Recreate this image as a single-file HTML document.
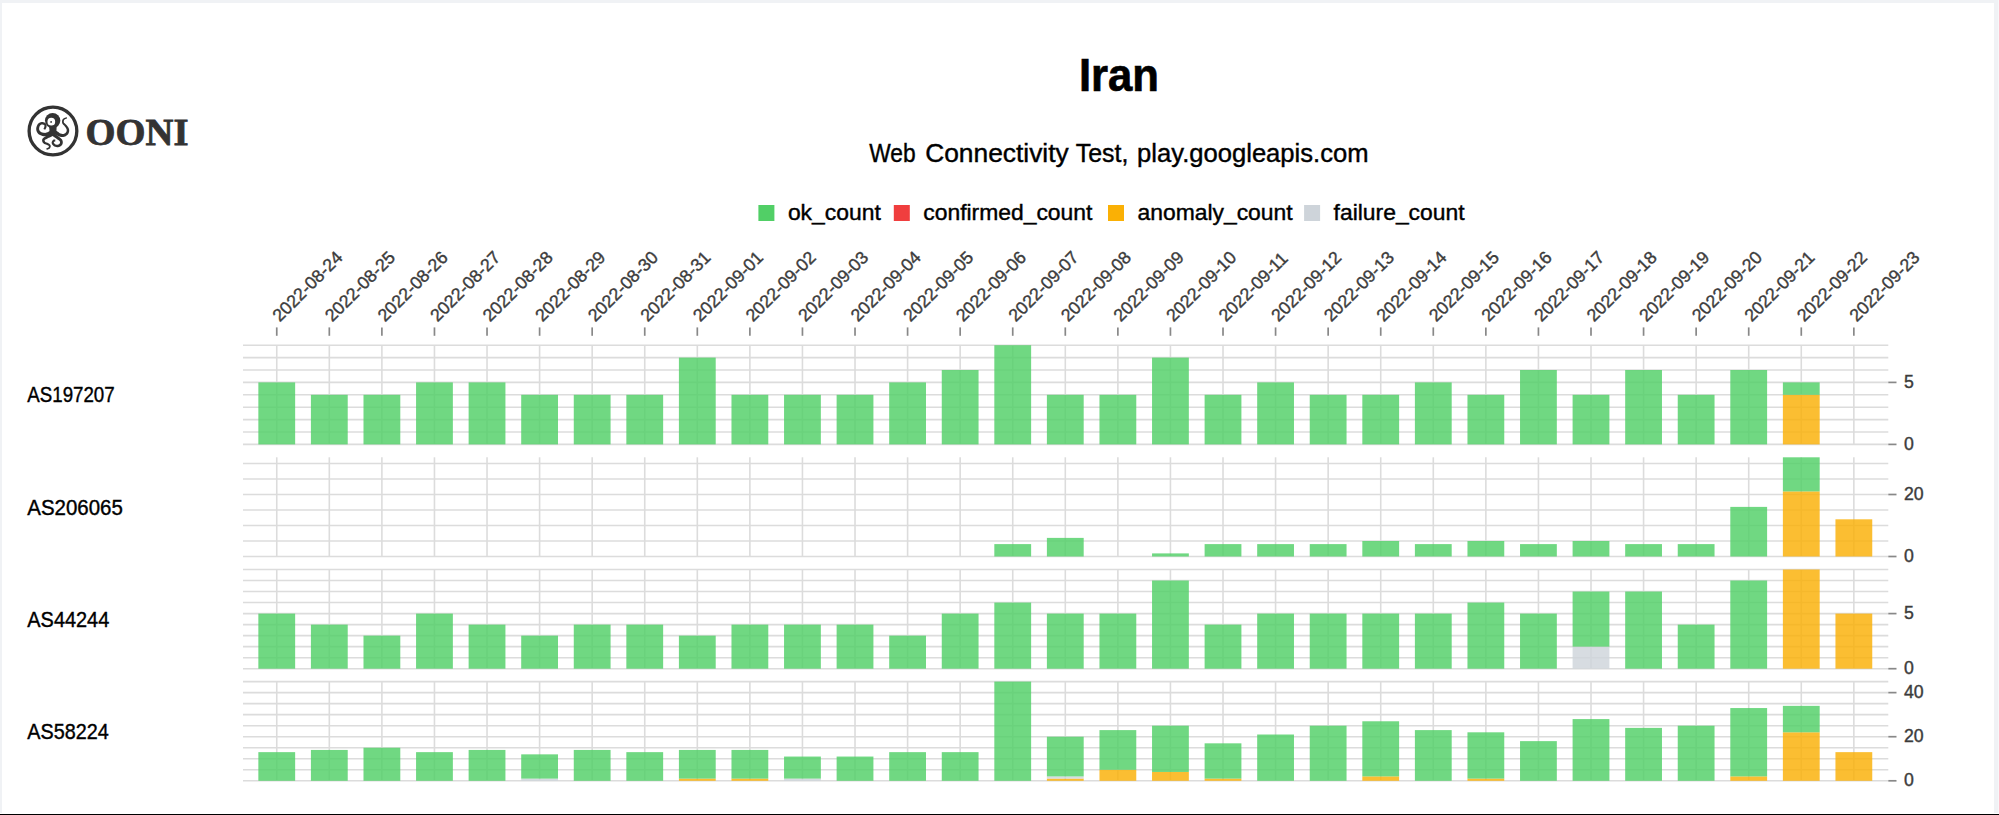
<!DOCTYPE html>
<html><head><meta charset="utf-8"><title>Iran - Web Connectivity Test</title>
<style>
html,body{margin:0;padding:0;width:1999px;height:815px;overflow:hidden;background:#fff;}
svg{display:block;}
</style></head><body>
<svg width="1999" height="815" viewBox="0 0 1999 815">
<rect x="0" y="0" width="1999" height="815" fill="#fff"/>
<rect x="0" y="0" width="1999" height="3" fill="#f0f2f5"/>
<rect x="0" y="0" width="2" height="813" fill="#f0f2f5"/>
<rect x="1994" y="0" width="4" height="813" fill="#f0f2f5"/>
<rect x="1998" y="0" width="1" height="813" fill="#f7f8fa"/>
<rect x="0" y="814" width="1999" height="1" fill="#000"/>
<g transform="translate(26 104) scale(0.06626)">
<circle cx="407" cy="407" r="360" fill="none" stroke="#333" stroke-width="50"/>
<g fill="#333"><path d="M357.9 401.3 L353.6 406.6 L350.8 411.1 L351.0 411.4 L351.5 411.3 L347.5 413.7 L337.6 418.6 L324.8 424.6 L311.2 430.1 L298.2 434.1 L286.9 435.9 L274.7 435.5 L260.3 433.3 L245.8 429.7 L232.9 425.1 L223.3 420.1 L216.1 414.4 L209.6 407.1 L204.3 398.7 L200.4 389.7 L198.1 381.4 L197.6 372.2 L198.9 360.6 L201.8 348.3 L205.8 337.0 L209.9 328.6 L214.3 322.6 L220.0 317.3 L226.5 313.0 L233.3 309.9 L239.1 308.3 L245.6 308.2 L254.2 309.6 L263.3 312.4 L270.9 315.9 L275.0 318.5 L276.2 320.0 L277.3 323.2 L277.8 328.6 L277.7 335.5 L277.1 342.1 L275.9 347.9 L273.6 354.1 L270.3 361.4 L266.4 369.4 L262.8 377.6 L290.0 390.4 L293.7 382.9 L297.9 375.4 L302.3 367.0 L306.3 357.7 L308.9 347.9 L310.3 338.3 L311.1 328.3 L310.4 317.3 L307.0 305.4 L299.6 294.3 L289.1 286.0 L277.1 279.6 L263.8 274.6 L249.7 271.5 L235.5 271.1 L222.0 273.7 L209.2 278.5 L196.9 285.6 L185.7 294.9 L176.1 306.4 L168.4 320.0 L162.0 335.3 L157.1 352.0 L154.2 369.4 L154.3 386.6 L157.5 403.0 L163.3 418.6 L171.6 433.6 L182.5 447.3 L195.9 459.3 L211.9 469.0 L229.9 476.7 L248.9 482.5 L268.4 486.5 L288.1 488.1 L308.2 486.3 L327.6 481.6 L345.2 475.6 L360.3 469.6 L372.5 464.3 L383.2 458.6 L392.5 450.8 L398.2 443.7 L400.0 440.9 L402.1 438.7Z"/><path d="M416.4 444.5 L423.4 448.1 L430.3 451.5 L437.0 455.0 L444.0 458.5 L450.9 462.2 L457.9 466.5 L466.1 472.2 L476.2 478.9 L488.2 485.6 L501.6 490.9 L515.4 494.3 L529.8 496.7 L544.9 498.0 L560.6 497.6 L576.1 494.9 L590.6 489.6 L604.3 482.3 L616.9 473.4 L628.2 463.0 L637.5 451.3 L644.4 438.3 L649.0 424.3 L651.6 409.8 L651.9 395.0 L649.9 380.1 L644.6 365.6 L637.0 352.3 L628.3 340.2 L619.5 329.2 L611.1 318.6 L601.7 308.4 L591.7 299.4 L582.8 291.6 L576.3 285.0 L572.6 279.1 L570.6 272.2 L569.7 263.8 L570.3 255.3 L572.1 247.5 L574.9 241.5 L579.5 236.5 L587.3 231.5 L597.5 226.4 L608.9 221.1 L619.7 215.4 L610.9 197.4 L600.3 202.1 L588.8 206.5 L576.9 211.5 L565.4 217.9 L555.7 226.9 L549.1 238.2 L545.2 250.4 L543.5 263.3 L543.9 276.2 L546.8 289.3 L553.1 301.6 L561.8 312.1 L570.9 321.2 L579.2 329.8 L586.1 338.6 L593.2 348.8 L600.7 359.7 L607.2 370.3 L611.9 379.9 L614.1 387.9 L614.5 396.0 L613.6 404.9 L611.4 413.7 L608.1 421.7 L604.1 428.1 L598.7 433.8 L591.3 439.6 L582.6 444.8 L573.6 448.8 L565.5 451.1 L557.5 451.9 L547.8 451.3 L537.2 449.6 L526.7 447.0 L517.8 444.1 L510.9 440.9 L504.2 436.3 L496.6 430.4 L488.2 423.7 L479.1 417.2 L470.8 411.9 L463.6 407.5 L456.8 403.5 L450.3 399.6 L443.6 395.5Z"/><path d="M375.7 430.7 L373.4 437.4 L372.4 443.0 L372.7 443.3 L373.8 442.4 L372.2 444.2 L365.0 448.9 L353.1 455.3 L338.7 462.5 L323.4 470.3 L309.3 478.4 L296.5 486.4 L283.0 494.7 L269.6 503.7 L257.3 514.1 L247.3 527.3 L242.7 543.3 L243.6 558.4 L248.0 571.7 L254.5 583.2 L263.1 593.7 L274.7 602.0 L287.4 607.2 L299.6 610.8 L310.0 613.8 L318.2 617.2 L325.8 621.4 L333.6 626.0 L340.0 630.4 L344.1 634.0 L345.7 635.9 L346.1 637.8 L345.8 641.5 L344.3 646.4 L341.8 651.4 L339.1 655.2 L335.5 658.1 L329.7 661.1 L322.0 664.1 L313.3 667.2 L305.0 670.7 L312.6 691.3 L320.7 688.7 L329.4 686.2 L338.6 683.4 L347.9 679.5 L356.3 673.6 L363.0 666.0 L368.2 657.6 L371.9 648.1 L373.6 637.6 L371.9 626.3 L366.4 616.3 L359.0 608.3 L350.7 601.6 L342.0 595.6 L332.8 589.6 L321.9 584.1 L310.1 579.5 L299.6 575.5 L291.9 571.8 L287.9 568.5 L285.0 563.9 L282.1 557.7 L280.7 551.9 L280.8 547.9 L281.5 546.1 L284.9 542.9 L293.0 537.2 L304.5 530.7 L317.7 523.9 L330.7 517.2 L343.6 510.9 L358.2 504.8 L373.4 498.6 L388.0 492.1 L401.0 484.8 L411.6 475.7 L418.8 464.8 L422.0 455.7 L422.9 452.2 L424.3 449.3Z"/><path d="M385.0 447.3 L386.1 450.4 L386.8 454.1 L388.9 462.2 L393.9 472.3 L401.6 481.9 L411.2 490.4 L421.9 498.5 L433.2 506.4 L444.6 514.3 L455.8 522.4 L468.1 530.9 L481.0 539.3 L492.8 547.3 L502.0 554.4 L507.3 560.1 L510.3 565.6 L512.4 572.1 L513.3 578.8 L513.0 585.1 L512.0 589.9 L509.7 594.4 L505.3 599.9 L499.3 605.4 L492.7 609.8 L486.7 612.6 L479.8 614.1 L470.8 614.6 L461.0 613.9 L451.8 612.1 L444.7 609.7 L438.5 606.0 L431.8 600.2 L425.7 593.4 L421.3 587.0 L419.5 583.5 L419.4 582.2 L420.7 578.5 L423.6 573.4 L427.4 568.4 L430.0 565.4 L429.7 565.3 L429.5 565.4 L432.0 565.5 L436.9 565.8 L442.2 565.6 L441.8 535.6 L438.1 535.6 L433.9 535.1 L427.3 534.8 L418.4 536.5 L410.0 541.4 L403.7 547.7 L397.5 555.1 L391.6 564.5 L387.3 576.2 L387.1 589.9 L391.5 602.3 L398.2 613.5 L406.8 624.2 L416.9 633.8 L428.5 641.5 L441.3 646.8 L455.0 650.3 L469.3 652.0 L483.6 652.0 L497.5 649.6 L510.6 644.6 L522.7 637.4 L533.6 628.5 L543.0 617.9 L550.0 605.7 L554.1 592.4 L555.5 578.6 L554.4 564.3 L550.7 549.9 L543.7 535.5 L533.1 522.6 L520.4 511.5 L507.4 501.7 L495.0 492.8 L484.2 484.4 L473.4 475.7 L462.1 467.1 L451.9 459.1 L443.5 452.1 L438.4 447.1 L437.0 445.0 L437.3 445.2 L437.4 444.2 L436.6 438.9 L435.0 432.7Z"/>
<path d="M352 300 C 345 360, 355 420, 380 470 L 440 470 C 462 420, 468 360, 455 300 Z"/>
<circle cx="402" cy="250" r="116"/></g>
<circle cx="382" cy="266" r="58" fill="#fff"/>
<circle cx="379" cy="270" r="14" fill="#333"/>
</g><text x="85.6" y="145" font-family="Liberation Serif, serif" font-weight="bold" font-size="38" fill="#333" stroke="#333" stroke-width="0.8" transform="translate(85.6 0) scale(1.015 1) translate(-85.6 0)">OONI</text>
<text x="1119" y="91" text-anchor="middle" font-family="Liberation Sans, sans-serif" font-weight="bold" font-size="46" fill="#000" stroke="#000" stroke-width="0.7" transform="translate(1119 0) scale(0.95 1) translate(-1119 0)">Iran</text>
<g font-family="Liberation Sans, sans-serif" font-size="25" fill="#000" stroke="#000" stroke-width="0.4"><text x="869.3" y="162.3" transform="translate(869.3 0) scale(0.91 1) translate(-869.3 0)">Web</text><text x="925.2" y="162.3" transform="translate(925.2 0) scale(1.054 1) translate(-925.2 0)">Connectivity</text><text x="1075.8" y="162.3" transform="translate(1075.8 0) scale(0.995 1) translate(-1075.8 0)">Test,</text><text x="1137.1" y="162.3" transform="translate(1137.1 0) scale(1.024 1) translate(-1137.1 0)">play.googleapis.com</text></g>
<g font-family="Liberation Sans, sans-serif" font-size="22" fill="#000" stroke="#000" stroke-width="0.4"><rect x="758.4" y="205" width="16" height="16" fill="#51cf66" stroke="none"/><text x="787.9" y="220.2" transform="translate(787.9 0) scale(1.04 1) translate(-787.9 0)">ok_count</text><rect x="893.8" y="205" width="16" height="16" fill="#f03e3e" stroke="none"/><text x="923.3" y="220.2" transform="translate(923.3 0) scale(1.04 1) translate(-923.3 0)">confirmed_count</text><rect x="1108" y="205" width="16" height="16" fill="#fab005" stroke="none"/><text x="1137.5" y="220.2" transform="translate(1137.5 0) scale(1.04 1) translate(-1137.5 0)">anomaly_count</text><rect x="1304.1" y="205" width="16" height="16" fill="#ced4da" stroke="none"/><text x="1333.6" y="220.2" transform="translate(1333.6 0) scale(1.04 1) translate(-1333.6 0)">failure_count</text></g>
<g stroke="#dcdcdc" stroke-width="1.6"><line x1="243.0" x2="1888.3" y1="444.40" y2="444.40"/><line x1="243.0" x2="1888.3" y1="432.00" y2="432.00"/><line x1="243.0" x2="1888.3" y1="419.60" y2="419.60"/><line x1="243.0" x2="1888.3" y1="407.20" y2="407.20"/><line x1="243.0" x2="1888.3" y1="394.80" y2="394.80"/><line x1="243.0" x2="1888.3" y1="382.40" y2="382.40"/><line x1="243.0" x2="1888.3" y1="370.00" y2="370.00"/><line x1="243.0" x2="1888.3" y1="357.60" y2="357.60"/><line x1="243.0" x2="1888.3" y1="345.20" y2="345.20"/><line x1="276.75" x2="276.75" y1="345.20" y2="444.40"/><line x1="329.32" x2="329.32" y1="345.20" y2="444.40"/><line x1="381.89" x2="381.89" y1="345.20" y2="444.40"/><line x1="434.46" x2="434.46" y1="345.20" y2="444.40"/><line x1="487.03" x2="487.03" y1="345.20" y2="444.40"/><line x1="539.60" x2="539.60" y1="345.20" y2="444.40"/><line x1="592.17" x2="592.17" y1="345.20" y2="444.40"/><line x1="644.74" x2="644.74" y1="345.20" y2="444.40"/><line x1="697.31" x2="697.31" y1="345.20" y2="444.40"/><line x1="749.88" x2="749.88" y1="345.20" y2="444.40"/><line x1="802.45" x2="802.45" y1="345.20" y2="444.40"/><line x1="855.02" x2="855.02" y1="345.20" y2="444.40"/><line x1="907.59" x2="907.59" y1="345.20" y2="444.40"/><line x1="960.16" x2="960.16" y1="345.20" y2="444.40"/><line x1="1012.73" x2="1012.73" y1="345.20" y2="444.40"/><line x1="1065.30" x2="1065.30" y1="345.20" y2="444.40"/><line x1="1117.87" x2="1117.87" y1="345.20" y2="444.40"/><line x1="1170.44" x2="1170.44" y1="345.20" y2="444.40"/><line x1="1223.01" x2="1223.01" y1="345.20" y2="444.40"/><line x1="1275.58" x2="1275.58" y1="345.20" y2="444.40"/><line x1="1328.15" x2="1328.15" y1="345.20" y2="444.40"/><line x1="1380.72" x2="1380.72" y1="345.20" y2="444.40"/><line x1="1433.29" x2="1433.29" y1="345.20" y2="444.40"/><line x1="1485.86" x2="1485.86" y1="345.20" y2="444.40"/><line x1="1538.43" x2="1538.43" y1="345.20" y2="444.40"/><line x1="1591.00" x2="1591.00" y1="345.20" y2="444.40"/><line x1="1643.57" x2="1643.57" y1="345.20" y2="444.40"/><line x1="1696.14" x2="1696.14" y1="345.20" y2="444.40"/><line x1="1748.71" x2="1748.71" y1="345.20" y2="444.40"/><line x1="1801.28" x2="1801.28" y1="345.20" y2="444.40"/><line x1="1853.85" x2="1853.85" y1="345.20" y2="444.40"/><line x1="243.0" x2="1888.3" y1="556.50" y2="556.50"/><line x1="243.0" x2="1888.3" y1="541.00" y2="541.00"/><line x1="243.0" x2="1888.3" y1="525.50" y2="525.50"/><line x1="243.0" x2="1888.3" y1="510.00" y2="510.00"/><line x1="243.0" x2="1888.3" y1="494.50" y2="494.50"/><line x1="243.0" x2="1888.3" y1="479.00" y2="479.00"/><line x1="243.0" x2="1888.3" y1="463.50" y2="463.50"/><line x1="276.75" x2="276.75" y1="457.30" y2="556.50"/><line x1="329.32" x2="329.32" y1="457.30" y2="556.50"/><line x1="381.89" x2="381.89" y1="457.30" y2="556.50"/><line x1="434.46" x2="434.46" y1="457.30" y2="556.50"/><line x1="487.03" x2="487.03" y1="457.30" y2="556.50"/><line x1="539.60" x2="539.60" y1="457.30" y2="556.50"/><line x1="592.17" x2="592.17" y1="457.30" y2="556.50"/><line x1="644.74" x2="644.74" y1="457.30" y2="556.50"/><line x1="697.31" x2="697.31" y1="457.30" y2="556.50"/><line x1="749.88" x2="749.88" y1="457.30" y2="556.50"/><line x1="802.45" x2="802.45" y1="457.30" y2="556.50"/><line x1="855.02" x2="855.02" y1="457.30" y2="556.50"/><line x1="907.59" x2="907.59" y1="457.30" y2="556.50"/><line x1="960.16" x2="960.16" y1="457.30" y2="556.50"/><line x1="1012.73" x2="1012.73" y1="457.30" y2="556.50"/><line x1="1065.30" x2="1065.30" y1="457.30" y2="556.50"/><line x1="1117.87" x2="1117.87" y1="457.30" y2="556.50"/><line x1="1170.44" x2="1170.44" y1="457.30" y2="556.50"/><line x1="1223.01" x2="1223.01" y1="457.30" y2="556.50"/><line x1="1275.58" x2="1275.58" y1="457.30" y2="556.50"/><line x1="1328.15" x2="1328.15" y1="457.30" y2="556.50"/><line x1="1380.72" x2="1380.72" y1="457.30" y2="556.50"/><line x1="1433.29" x2="1433.29" y1="457.30" y2="556.50"/><line x1="1485.86" x2="1485.86" y1="457.30" y2="556.50"/><line x1="1538.43" x2="1538.43" y1="457.30" y2="556.50"/><line x1="1591.00" x2="1591.00" y1="457.30" y2="556.50"/><line x1="1643.57" x2="1643.57" y1="457.30" y2="556.50"/><line x1="1696.14" x2="1696.14" y1="457.30" y2="556.50"/><line x1="1748.71" x2="1748.71" y1="457.30" y2="556.50"/><line x1="1801.28" x2="1801.28" y1="457.30" y2="556.50"/><line x1="1853.85" x2="1853.85" y1="457.30" y2="556.50"/><line x1="243.0" x2="1888.3" y1="668.70" y2="668.70"/><line x1="243.0" x2="1888.3" y1="657.68" y2="657.68"/><line x1="243.0" x2="1888.3" y1="646.66" y2="646.66"/><line x1="243.0" x2="1888.3" y1="635.63" y2="635.63"/><line x1="243.0" x2="1888.3" y1="624.61" y2="624.61"/><line x1="243.0" x2="1888.3" y1="613.59" y2="613.59"/><line x1="243.0" x2="1888.3" y1="602.57" y2="602.57"/><line x1="243.0" x2="1888.3" y1="591.54" y2="591.54"/><line x1="243.0" x2="1888.3" y1="580.52" y2="580.52"/><line x1="243.0" x2="1888.3" y1="569.50" y2="569.50"/><line x1="276.75" x2="276.75" y1="569.50" y2="668.70"/><line x1="329.32" x2="329.32" y1="569.50" y2="668.70"/><line x1="381.89" x2="381.89" y1="569.50" y2="668.70"/><line x1="434.46" x2="434.46" y1="569.50" y2="668.70"/><line x1="487.03" x2="487.03" y1="569.50" y2="668.70"/><line x1="539.60" x2="539.60" y1="569.50" y2="668.70"/><line x1="592.17" x2="592.17" y1="569.50" y2="668.70"/><line x1="644.74" x2="644.74" y1="569.50" y2="668.70"/><line x1="697.31" x2="697.31" y1="569.50" y2="668.70"/><line x1="749.88" x2="749.88" y1="569.50" y2="668.70"/><line x1="802.45" x2="802.45" y1="569.50" y2="668.70"/><line x1="855.02" x2="855.02" y1="569.50" y2="668.70"/><line x1="907.59" x2="907.59" y1="569.50" y2="668.70"/><line x1="960.16" x2="960.16" y1="569.50" y2="668.70"/><line x1="1012.73" x2="1012.73" y1="569.50" y2="668.70"/><line x1="1065.30" x2="1065.30" y1="569.50" y2="668.70"/><line x1="1117.87" x2="1117.87" y1="569.50" y2="668.70"/><line x1="1170.44" x2="1170.44" y1="569.50" y2="668.70"/><line x1="1223.01" x2="1223.01" y1="569.50" y2="668.70"/><line x1="1275.58" x2="1275.58" y1="569.50" y2="668.70"/><line x1="1328.15" x2="1328.15" y1="569.50" y2="668.70"/><line x1="1380.72" x2="1380.72" y1="569.50" y2="668.70"/><line x1="1433.29" x2="1433.29" y1="569.50" y2="668.70"/><line x1="1485.86" x2="1485.86" y1="569.50" y2="668.70"/><line x1="1538.43" x2="1538.43" y1="569.50" y2="668.70"/><line x1="1591.00" x2="1591.00" y1="569.50" y2="668.70"/><line x1="1643.57" x2="1643.57" y1="569.50" y2="668.70"/><line x1="1696.14" x2="1696.14" y1="569.50" y2="668.70"/><line x1="1748.71" x2="1748.71" y1="569.50" y2="668.70"/><line x1="1801.28" x2="1801.28" y1="569.50" y2="668.70"/><line x1="1853.85" x2="1853.85" y1="569.50" y2="668.70"/><line x1="243.0" x2="1888.3" y1="780.80" y2="780.80"/><line x1="243.0" x2="1888.3" y1="769.78" y2="769.78"/><line x1="243.0" x2="1888.3" y1="758.76" y2="758.76"/><line x1="243.0" x2="1888.3" y1="747.73" y2="747.73"/><line x1="243.0" x2="1888.3" y1="736.71" y2="736.71"/><line x1="243.0" x2="1888.3" y1="725.69" y2="725.69"/><line x1="243.0" x2="1888.3" y1="714.67" y2="714.67"/><line x1="243.0" x2="1888.3" y1="703.64" y2="703.64"/><line x1="243.0" x2="1888.3" y1="692.62" y2="692.62"/><line x1="243.0" x2="1888.3" y1="681.60" y2="681.60"/><line x1="276.75" x2="276.75" y1="681.60" y2="780.80"/><line x1="329.32" x2="329.32" y1="681.60" y2="780.80"/><line x1="381.89" x2="381.89" y1="681.60" y2="780.80"/><line x1="434.46" x2="434.46" y1="681.60" y2="780.80"/><line x1="487.03" x2="487.03" y1="681.60" y2="780.80"/><line x1="539.60" x2="539.60" y1="681.60" y2="780.80"/><line x1="592.17" x2="592.17" y1="681.60" y2="780.80"/><line x1="644.74" x2="644.74" y1="681.60" y2="780.80"/><line x1="697.31" x2="697.31" y1="681.60" y2="780.80"/><line x1="749.88" x2="749.88" y1="681.60" y2="780.80"/><line x1="802.45" x2="802.45" y1="681.60" y2="780.80"/><line x1="855.02" x2="855.02" y1="681.60" y2="780.80"/><line x1="907.59" x2="907.59" y1="681.60" y2="780.80"/><line x1="960.16" x2="960.16" y1="681.60" y2="780.80"/><line x1="1012.73" x2="1012.73" y1="681.60" y2="780.80"/><line x1="1065.30" x2="1065.30" y1="681.60" y2="780.80"/><line x1="1117.87" x2="1117.87" y1="681.60" y2="780.80"/><line x1="1170.44" x2="1170.44" y1="681.60" y2="780.80"/><line x1="1223.01" x2="1223.01" y1="681.60" y2="780.80"/><line x1="1275.58" x2="1275.58" y1="681.60" y2="780.80"/><line x1="1328.15" x2="1328.15" y1="681.60" y2="780.80"/><line x1="1380.72" x2="1380.72" y1="681.60" y2="780.80"/><line x1="1433.29" x2="1433.29" y1="681.60" y2="780.80"/><line x1="1485.86" x2="1485.86" y1="681.60" y2="780.80"/><line x1="1538.43" x2="1538.43" y1="681.60" y2="780.80"/><line x1="1591.00" x2="1591.00" y1="681.60" y2="780.80"/><line x1="1643.57" x2="1643.57" y1="681.60" y2="780.80"/><line x1="1696.14" x2="1696.14" y1="681.60" y2="780.80"/><line x1="1748.71" x2="1748.71" y1="681.60" y2="780.80"/><line x1="1801.28" x2="1801.28" y1="681.60" y2="780.80"/><line x1="1853.85" x2="1853.85" y1="681.60" y2="780.80"/></g>
<g fill-opacity="0.82"><rect x="258.35" y="382.40" width="36.8" height="62.00" fill="#51cf66"/><rect x="310.92" y="394.80" width="36.8" height="49.60" fill="#51cf66"/><rect x="363.49" y="394.80" width="36.8" height="49.60" fill="#51cf66"/><rect x="416.06" y="382.40" width="36.8" height="62.00" fill="#51cf66"/><rect x="468.63" y="382.40" width="36.8" height="62.00" fill="#51cf66"/><rect x="521.20" y="394.80" width="36.8" height="49.60" fill="#51cf66"/><rect x="573.77" y="394.80" width="36.8" height="49.60" fill="#51cf66"/><rect x="626.34" y="394.80" width="36.8" height="49.60" fill="#51cf66"/><rect x="678.91" y="357.60" width="36.8" height="86.80" fill="#51cf66"/><rect x="731.48" y="394.80" width="36.8" height="49.60" fill="#51cf66"/><rect x="784.05" y="394.80" width="36.8" height="49.60" fill="#51cf66"/><rect x="836.62" y="394.80" width="36.8" height="49.60" fill="#51cf66"/><rect x="889.19" y="382.40" width="36.8" height="62.00" fill="#51cf66"/><rect x="941.76" y="370.00" width="36.8" height="74.40" fill="#51cf66"/><rect x="994.33" y="345.20" width="36.8" height="99.20" fill="#51cf66"/><rect x="1046.90" y="394.80" width="36.8" height="49.60" fill="#51cf66"/><rect x="1099.47" y="394.80" width="36.8" height="49.60" fill="#51cf66"/><rect x="1152.04" y="357.60" width="36.8" height="86.80" fill="#51cf66"/><rect x="1204.61" y="394.80" width="36.8" height="49.60" fill="#51cf66"/><rect x="1257.18" y="382.40" width="36.8" height="62.00" fill="#51cf66"/><rect x="1309.75" y="394.80" width="36.8" height="49.60" fill="#51cf66"/><rect x="1362.32" y="394.80" width="36.8" height="49.60" fill="#51cf66"/><rect x="1414.89" y="382.40" width="36.8" height="62.00" fill="#51cf66"/><rect x="1467.46" y="394.80" width="36.8" height="49.60" fill="#51cf66"/><rect x="1520.03" y="370.00" width="36.8" height="74.40" fill="#51cf66"/><rect x="1572.60" y="394.80" width="36.8" height="49.60" fill="#51cf66"/><rect x="1625.17" y="370.00" width="36.8" height="74.40" fill="#51cf66"/><rect x="1677.74" y="394.80" width="36.8" height="49.60" fill="#51cf66"/><rect x="1730.31" y="370.00" width="36.8" height="74.40" fill="#51cf66"/><rect x="1782.88" y="394.80" width="36.8" height="49.60" fill="#fab005"/><rect x="1782.88" y="382.40" width="36.8" height="12.40" fill="#51cf66"/><rect x="994.33" y="544.10" width="36.8" height="12.40" fill="#51cf66"/><rect x="1046.90" y="537.90" width="36.8" height="18.60" fill="#51cf66"/><rect x="1152.04" y="553.40" width="36.8" height="3.10" fill="#51cf66"/><rect x="1204.61" y="544.10" width="36.8" height="12.40" fill="#51cf66"/><rect x="1257.18" y="544.10" width="36.8" height="12.40" fill="#51cf66"/><rect x="1309.75" y="544.10" width="36.8" height="12.40" fill="#51cf66"/><rect x="1362.32" y="541.00" width="36.8" height="15.50" fill="#51cf66"/><rect x="1414.89" y="544.10" width="36.8" height="12.40" fill="#51cf66"/><rect x="1467.46" y="541.00" width="36.8" height="15.50" fill="#51cf66"/><rect x="1520.03" y="544.10" width="36.8" height="12.40" fill="#51cf66"/><rect x="1572.60" y="541.00" width="36.8" height="15.50" fill="#51cf66"/><rect x="1625.17" y="544.10" width="36.8" height="12.40" fill="#51cf66"/><rect x="1677.74" y="544.10" width="36.8" height="12.40" fill="#51cf66"/><rect x="1730.31" y="506.90" width="36.8" height="49.60" fill="#51cf66"/><rect x="1782.88" y="491.40" width="36.8" height="65.10" fill="#fab005"/><rect x="1782.88" y="457.30" width="36.8" height="34.10" fill="#51cf66"/><rect x="1835.45" y="519.30" width="36.8" height="37.20" fill="#fab005"/><rect x="258.35" y="613.59" width="36.8" height="55.11" fill="#51cf66"/><rect x="310.92" y="624.61" width="36.8" height="44.09" fill="#51cf66"/><rect x="363.49" y="635.63" width="36.8" height="33.07" fill="#51cf66"/><rect x="416.06" y="613.59" width="36.8" height="55.11" fill="#51cf66"/><rect x="468.63" y="624.61" width="36.8" height="44.09" fill="#51cf66"/><rect x="521.20" y="635.63" width="36.8" height="33.07" fill="#51cf66"/><rect x="573.77" y="624.61" width="36.8" height="44.09" fill="#51cf66"/><rect x="626.34" y="624.61" width="36.8" height="44.09" fill="#51cf66"/><rect x="678.91" y="635.63" width="36.8" height="33.07" fill="#51cf66"/><rect x="731.48" y="624.61" width="36.8" height="44.09" fill="#51cf66"/><rect x="784.05" y="624.61" width="36.8" height="44.09" fill="#51cf66"/><rect x="836.62" y="624.61" width="36.8" height="44.09" fill="#51cf66"/><rect x="889.19" y="635.63" width="36.8" height="33.07" fill="#51cf66"/><rect x="941.76" y="613.59" width="36.8" height="55.11" fill="#51cf66"/><rect x="994.33" y="602.57" width="36.8" height="66.13" fill="#51cf66"/><rect x="1046.90" y="613.59" width="36.8" height="55.11" fill="#51cf66"/><rect x="1099.47" y="613.59" width="36.8" height="55.11" fill="#51cf66"/><rect x="1152.04" y="580.52" width="36.8" height="88.18" fill="#51cf66"/><rect x="1204.61" y="624.61" width="36.8" height="44.09" fill="#51cf66"/><rect x="1257.18" y="613.59" width="36.8" height="55.11" fill="#51cf66"/><rect x="1309.75" y="613.59" width="36.8" height="55.11" fill="#51cf66"/><rect x="1362.32" y="613.59" width="36.8" height="55.11" fill="#51cf66"/><rect x="1414.89" y="613.59" width="36.8" height="55.11" fill="#51cf66"/><rect x="1467.46" y="602.57" width="36.8" height="66.13" fill="#51cf66"/><rect x="1520.03" y="613.59" width="36.8" height="55.11" fill="#51cf66"/><rect x="1572.60" y="646.66" width="36.8" height="22.04" fill="#ced4da"/><rect x="1572.60" y="591.54" width="36.8" height="55.11" fill="#51cf66"/><rect x="1625.17" y="591.54" width="36.8" height="77.16" fill="#51cf66"/><rect x="1677.74" y="624.61" width="36.8" height="44.09" fill="#51cf66"/><rect x="1730.31" y="580.52" width="36.8" height="88.18" fill="#51cf66"/><rect x="1782.88" y="569.50" width="36.8" height="99.20" fill="#fab005"/><rect x="1835.45" y="613.59" width="36.8" height="55.11" fill="#fab005"/><rect x="258.35" y="752.14" width="36.8" height="28.66" fill="#51cf66"/><rect x="310.92" y="749.94" width="36.8" height="30.86" fill="#51cf66"/><rect x="363.49" y="747.73" width="36.8" height="33.07" fill="#51cf66"/><rect x="416.06" y="752.14" width="36.8" height="28.66" fill="#51cf66"/><rect x="468.63" y="749.94" width="36.8" height="30.86" fill="#51cf66"/><rect x="521.20" y="778.60" width="36.8" height="2.20" fill="#ced4da"/><rect x="521.20" y="754.35" width="36.8" height="24.25" fill="#51cf66"/><rect x="573.77" y="749.94" width="36.8" height="30.86" fill="#51cf66"/><rect x="626.34" y="752.14" width="36.8" height="28.66" fill="#51cf66"/><rect x="678.91" y="778.60" width="36.8" height="2.20" fill="#fab005"/><rect x="678.91" y="749.94" width="36.8" height="28.66" fill="#51cf66"/><rect x="731.48" y="778.60" width="36.8" height="2.20" fill="#fab005"/><rect x="731.48" y="749.94" width="36.8" height="28.66" fill="#51cf66"/><rect x="784.05" y="778.60" width="36.8" height="2.20" fill="#ced4da"/><rect x="784.05" y="756.55" width="36.8" height="22.04" fill="#51cf66"/><rect x="836.62" y="756.55" width="36.8" height="24.25" fill="#51cf66"/><rect x="889.19" y="752.14" width="36.8" height="28.66" fill="#51cf66"/><rect x="941.76" y="752.14" width="36.8" height="28.66" fill="#51cf66"/><rect x="994.33" y="681.60" width="36.8" height="99.20" fill="#51cf66"/><rect x="1046.90" y="778.60" width="36.8" height="2.20" fill="#fab005"/><rect x="1046.90" y="776.39" width="36.8" height="2.20" fill="#ced4da"/><rect x="1046.90" y="736.71" width="36.8" height="39.68" fill="#51cf66"/><rect x="1099.47" y="769.78" width="36.8" height="11.02" fill="#fab005"/><rect x="1099.47" y="730.10" width="36.8" height="39.68" fill="#51cf66"/><rect x="1152.04" y="771.98" width="36.8" height="8.82" fill="#fab005"/><rect x="1152.04" y="725.69" width="36.8" height="46.29" fill="#51cf66"/><rect x="1204.61" y="778.60" width="36.8" height="2.20" fill="#fab005"/><rect x="1204.61" y="743.32" width="36.8" height="35.27" fill="#51cf66"/><rect x="1257.18" y="734.51" width="36.8" height="46.29" fill="#51cf66"/><rect x="1309.75" y="725.69" width="36.8" height="55.11" fill="#51cf66"/><rect x="1362.32" y="776.39" width="36.8" height="4.41" fill="#fab005"/><rect x="1362.32" y="721.28" width="36.8" height="55.11" fill="#51cf66"/><rect x="1414.89" y="730.10" width="36.8" height="50.70" fill="#51cf66"/><rect x="1467.46" y="778.60" width="36.8" height="2.20" fill="#fab005"/><rect x="1467.46" y="732.30" width="36.8" height="46.29" fill="#51cf66"/><rect x="1520.03" y="741.12" width="36.8" height="39.68" fill="#51cf66"/><rect x="1572.60" y="719.08" width="36.8" height="61.72" fill="#51cf66"/><rect x="1625.17" y="727.89" width="36.8" height="52.91" fill="#51cf66"/><rect x="1677.74" y="725.69" width="36.8" height="55.11" fill="#51cf66"/><rect x="1730.31" y="776.39" width="36.8" height="4.41" fill="#fab005"/><rect x="1730.31" y="708.05" width="36.8" height="68.34" fill="#51cf66"/><rect x="1782.88" y="732.30" width="36.8" height="48.50" fill="#fab005"/><rect x="1782.88" y="705.85" width="36.8" height="26.45" fill="#51cf66"/><rect x="1835.45" y="752.14" width="36.8" height="28.66" fill="#fab005"/></g>
<g stroke="#888" stroke-width="1.7"><line x1="276.75" x2="276.75" y1="327.4" y2="335.8"/><line x1="329.32" x2="329.32" y1="327.4" y2="335.8"/><line x1="381.89" x2="381.89" y1="327.4" y2="335.8"/><line x1="434.46" x2="434.46" y1="327.4" y2="335.8"/><line x1="487.03" x2="487.03" y1="327.4" y2="335.8"/><line x1="539.60" x2="539.60" y1="327.4" y2="335.8"/><line x1="592.17" x2="592.17" y1="327.4" y2="335.8"/><line x1="644.74" x2="644.74" y1="327.4" y2="335.8"/><line x1="697.31" x2="697.31" y1="327.4" y2="335.8"/><line x1="749.88" x2="749.88" y1="327.4" y2="335.8"/><line x1="802.45" x2="802.45" y1="327.4" y2="335.8"/><line x1="855.02" x2="855.02" y1="327.4" y2="335.8"/><line x1="907.59" x2="907.59" y1="327.4" y2="335.8"/><line x1="960.16" x2="960.16" y1="327.4" y2="335.8"/><line x1="1012.73" x2="1012.73" y1="327.4" y2="335.8"/><line x1="1065.30" x2="1065.30" y1="327.4" y2="335.8"/><line x1="1117.87" x2="1117.87" y1="327.4" y2="335.8"/><line x1="1170.44" x2="1170.44" y1="327.4" y2="335.8"/><line x1="1223.01" x2="1223.01" y1="327.4" y2="335.8"/><line x1="1275.58" x2="1275.58" y1="327.4" y2="335.8"/><line x1="1328.15" x2="1328.15" y1="327.4" y2="335.8"/><line x1="1380.72" x2="1380.72" y1="327.4" y2="335.8"/><line x1="1433.29" x2="1433.29" y1="327.4" y2="335.8"/><line x1="1485.86" x2="1485.86" y1="327.4" y2="335.8"/><line x1="1538.43" x2="1538.43" y1="327.4" y2="335.8"/><line x1="1591.00" x2="1591.00" y1="327.4" y2="335.8"/><line x1="1643.57" x2="1643.57" y1="327.4" y2="335.8"/><line x1="1696.14" x2="1696.14" y1="327.4" y2="335.8"/><line x1="1748.71" x2="1748.71" y1="327.4" y2="335.8"/><line x1="1801.28" x2="1801.28" y1="327.4" y2="335.8"/><line x1="1853.85" x2="1853.85" y1="327.4" y2="335.8"/><line x1="1888.3" x2="1896.5" y1="444.40" y2="444.40"/><line x1="1888.3" x2="1896.5" y1="382.40" y2="382.40"/><line x1="1888.3" x2="1896.5" y1="556.50" y2="556.50"/><line x1="1888.3" x2="1896.5" y1="494.50" y2="494.50"/><line x1="1888.3" x2="1896.5" y1="668.70" y2="668.70"/><line x1="1888.3" x2="1896.5" y1="613.59" y2="613.59"/><line x1="1888.3" x2="1896.5" y1="780.80" y2="780.80"/><line x1="1888.3" x2="1896.5" y1="736.71" y2="736.71"/><line x1="1888.3" x2="1896.5" y1="692.62" y2="692.62"/></g>
<g font-family="Liberation Sans, sans-serif" font-size="17.7" fill="#3c3c3c" stroke="#3c3c3c" stroke-width="0.4"><text transform="translate(279.75,322.6) rotate(-45)">2022-08-24</text><text transform="translate(332.32,322.6) rotate(-45)">2022-08-25</text><text transform="translate(384.89,322.6) rotate(-45)">2022-08-26</text><text transform="translate(437.46,322.6) rotate(-45)">2022-08-27</text><text transform="translate(490.03,322.6) rotate(-45)">2022-08-28</text><text transform="translate(542.60,322.6) rotate(-45)">2022-08-29</text><text transform="translate(595.17,322.6) rotate(-45)">2022-08-30</text><text transform="translate(647.74,322.6) rotate(-45)">2022-08-31</text><text transform="translate(700.31,322.6) rotate(-45)">2022-09-01</text><text transform="translate(752.88,322.6) rotate(-45)">2022-09-02</text><text transform="translate(805.45,322.6) rotate(-45)">2022-09-03</text><text transform="translate(858.02,322.6) rotate(-45)">2022-09-04</text><text transform="translate(910.59,322.6) rotate(-45)">2022-09-05</text><text transform="translate(963.16,322.6) rotate(-45)">2022-09-06</text><text transform="translate(1015.73,322.6) rotate(-45)">2022-09-07</text><text transform="translate(1068.30,322.6) rotate(-45)">2022-09-08</text><text transform="translate(1120.87,322.6) rotate(-45)">2022-09-09</text><text transform="translate(1173.44,322.6) rotate(-45)">2022-09-10</text><text transform="translate(1226.01,322.6) rotate(-45)">2022-09-11</text><text transform="translate(1278.58,322.6) rotate(-45)">2022-09-12</text><text transform="translate(1331.15,322.6) rotate(-45)">2022-09-13</text><text transform="translate(1383.72,322.6) rotate(-45)">2022-09-14</text><text transform="translate(1436.29,322.6) rotate(-45)">2022-09-15</text><text transform="translate(1488.86,322.6) rotate(-45)">2022-09-16</text><text transform="translate(1541.43,322.6) rotate(-45)">2022-09-17</text><text transform="translate(1594.00,322.6) rotate(-45)">2022-09-18</text><text transform="translate(1646.57,322.6) rotate(-45)">2022-09-19</text><text transform="translate(1699.14,322.6) rotate(-45)">2022-09-20</text><text transform="translate(1751.71,322.6) rotate(-45)">2022-09-21</text><text transform="translate(1804.28,322.6) rotate(-45)">2022-09-22</text><text transform="translate(1856.85,322.6) rotate(-45)">2022-09-23</text><text x="1904.0" y="449.70">0</text><text x="1904.0" y="387.70">5</text><text x="1904.0" y="561.80">0</text><text x="1904.0" y="499.80">20</text><text x="1904.0" y="674.00">0</text><text x="1904.0" y="618.89">5</text><text x="1904.0" y="786.10">0</text><text x="1904.0" y="742.01">20</text><text x="1904.0" y="697.92">40</text></g>
<g font-family="Liberation Sans, sans-serif" font-size="22" fill="#000" stroke="#000" stroke-width="0.4"><text x="27.3" y="402.50" transform="translate(27.3 0) scale(0.851 1) translate(-27.3 0)">AS197207</text><text x="27.3" y="514.60" transform="translate(27.3 0) scale(0.93 1) translate(-27.3 0)">AS206065</text><text x="27.3" y="626.80" transform="translate(27.3 0) scale(0.906 1) translate(-27.3 0)">AS44244</text><text x="27.3" y="738.90" transform="translate(27.3 0) scale(0.9 1) translate(-27.3 0)">AS58224</text></g>
</svg>
</body></html>
